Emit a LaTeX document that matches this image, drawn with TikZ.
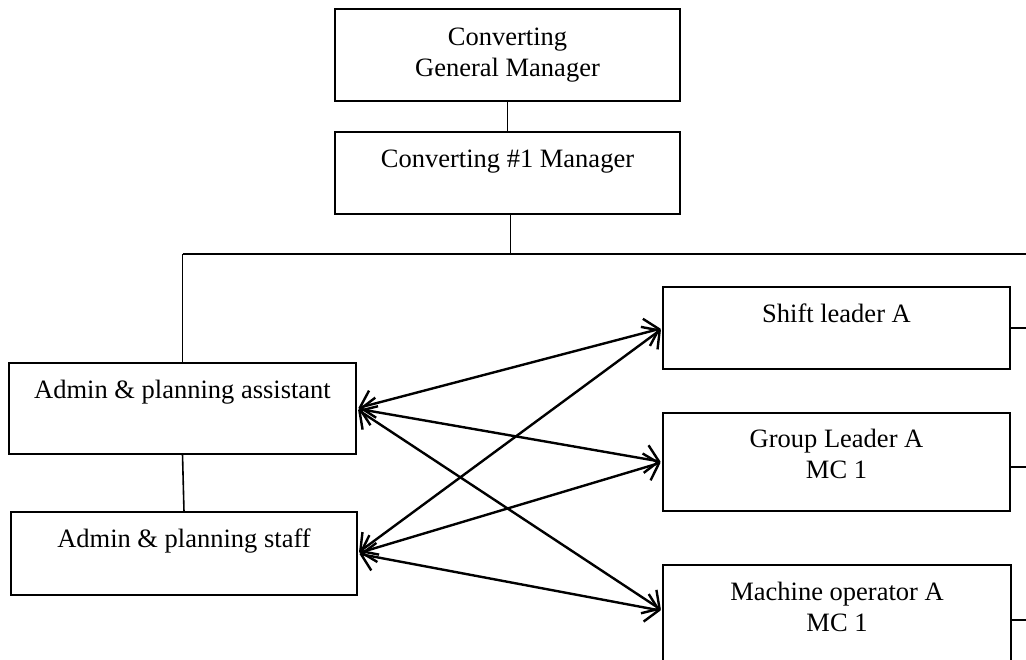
\documentclass[tikz,border=0pt]{standalone}
\usepackage{fontspec}
\setmainfont{Liberation Serif}
\usetikzlibrary{arrows.meta}
\tikzset{
  orgbox/.style={draw, line width=1.8pt, inner sep=0pt, outer sep=0pt, anchor=north west,
    font=\fontsize{26.5}{31}\selectfont},
  conn/.style={line width=1.6pt},
  dbl/.style={line width=2.4pt,
    {Straight Barb[length=13pt,width=28pt]}-{Straight Barb[length=13pt,width=28pt]},
    shorten <=2.5pt, shorten >=2.5pt},
}
\newcommand{\boxtext}[4]{\parbox[c][#2][t]{#1}{\centering\rule{0pt}{#3}#4}}
\begin{document}
\begin{tikzpicture}[x=1pt,y=-1pt]
\useasboundingbox (0,0) rectangle (1026,659);
\fill[white] (0,0) rectangle (1026,659);
\clip (0,0) rectangle (1026,659);

\node[orgbox] (gm) at (335,9) {\boxtext{345pt}{92pt}{36pt}{Converting\\General Manager}};
\node[orgbox] (m1) at (335,132) {\boxtext{345pt}{82pt}{35pt}{Converting \#1 Manager}};
\node[orgbox] (aa) at (9,363) {\boxtext{347pt}{91pt}{35pt}{Admin \& planning assistant}};
\node[orgbox] (as) at (11,512) {\boxtext{346pt}{83pt}{35pt}{Admin \& planning staff}};
\node[orgbox] (sl) at (663,287) {\boxtext{347pt}{82pt}{35pt}{Shift leader A}};
\node[orgbox] (gl) at (663,413) {\boxtext{347pt}{98pt}{34pt}{Group Leader A\\MC 1}};
\node[orgbox] (mo) at (663,565) {\boxtext{348pt}{130pt}{35pt}{Machine operator A\\MC 1}};

\coordinate (busR) at (1026,254);
\coordinate (edgeR) at (1026,0);
\coordinate (moin) at ([yshift=-46pt]mo.north west);

\draw[conn] (gm.south) -- (m1.north);
\draw[conn] ([xshift=3pt]m1.south) -- ([xshift=3pt]m1.south |- busR);
\draw[conn] (aa.north |- busR) -- (busR);
\draw[conn] (aa.north) -- (aa.north |- busR);
\draw[conn] (aa.south) -- (as.north);
\draw[conn] (sl.east) -- (sl.east -| edgeR);
\draw[conn] ([yshift=-5pt]gl.east) -- ([yshift=-5pt]gl.east -| edgeR);
\draw[conn] ([yshift=-55pt]mo.north east) -- ([yshift=-55pt]mo.north east -| edgeR);

\draw[dbl] (aa.east) -- (sl.west);
\draw[dbl] (aa.east) -- (gl.west);
\draw[dbl] (aa.east) -- (moin);
\draw[dbl] (as.east) -- (sl.west);
\draw[dbl] (as.east) -- (gl.west);
\draw[dbl] (as.east) -- (moin);
\end{tikzpicture}
\end{document}
